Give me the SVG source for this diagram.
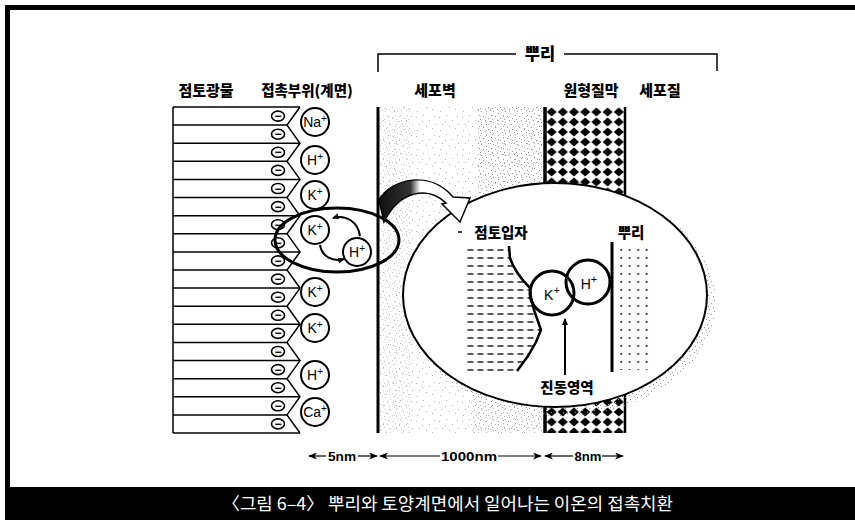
<svg xmlns="http://www.w3.org/2000/svg" width="855" height="520" viewBox="0 0 855 520">
  <style>
    .lbl{font-family:'Noto Sans CJK KR','Noto Sans',sans-serif;font-weight:900;fill:#000;text-anchor:middle}
    .ion{fill:#fff;stroke:#000;stroke-width:2}
    .iont{font-family:'Liberation Sans',Arial,sans-serif;font-size:14px;fill:#000;text-anchor:middle}
    .neg{fill:#fff;stroke:#000;stroke-width:1.6}
    .negt{font-family:'Liberation Sans',Arial,sans-serif;font-size:12px;font-weight:700;text-anchor:middle}
    .plate{stroke:#000;stroke-width:1.5;fill:none}
    .scl{font-family:'Liberation Sans',Arial,sans-serif;font-weight:700;font-size:13px;text-anchor:middle}
    .dim{stroke:#000;stroke-width:1.2;fill:none;marker-end:url(#head)}
    .wall{stroke:#000;fill:none}
  </style>
  <defs>
    <marker id="head" markerWidth="9" markerHeight="7" refX="8" refY="3.5" orient="auto" markerUnits="userSpaceOnUse">
      <path d="M0,0 L9,3.5 L0,7 L2.5,3.5 Z" fill="#000"/>
    </marker>
    <marker id="small" markerWidth="7" markerHeight="6" refX="6" refY="3" orient="auto" markerUnits="userSpaceOnUse">
      <path d="M0,0 L7,3 L0,6 Z" fill="#000"/>
    </marker>
    <pattern id="st1" width="23" height="19" patternUnits="userSpaceOnUse">
      <g fill="#b0b0b0">
        <rect x="2" y="3" width="1" height="1"/><rect x="9" y="1" width="1" height="1"/>
        <rect x="15" y="6" width="1" height="1"/><rect x="20" y="2" width="1" height="1"/>
        <rect x="5" y="10" width="1" height="1"/><rect x="12" y="12" width="1" height="1"/>
        <rect x="18" y="14" width="1" height="1"/><rect x="3" y="16" width="1" height="1"/>
        <rect x="8" y="7" width="1" height="1"/><rect x="21" y="10" width="1" height="1"/>
      </g>
    </pattern>
    <pattern id="st2" width="12" height="11" patternUnits="userSpaceOnUse">
      <g fill="#999">
        <rect x="1" y="1" width="1" height="1"/><rect x="6" y="3" width="1" height="1"/>
        <rect x="10" y="0" width="1" height="1"/><rect x="3" y="6" width="1" height="1"/>
        <rect x="8" y="8" width="1" height="1"/><rect x="11" y="5" width="1" height="1"/>
        <rect x="0" y="9" width="1" height="1"/><rect x="5" y="10" width="1" height="1"/>
      </g>
    </pattern>
    <pattern id="diam" x="546" y="107" width="11.2" height="10" patternUnits="userSpaceOnUse">
      <polygon points="5.6,0.6 10.6,5 5.6,9.4 0.6,5" fill="#000"/>
    </pattern>
    <pattern id="dash" x="466" y="246" width="10" height="8" patternUnits="userSpaceOnUse">
      <line x1="1.5" y1="4" x2="7.5" y2="4" stroke="#000" stroke-width="1.3"/>
    </pattern>
    <pattern id="dots" x="617" y="246" width="8.5" height="8" patternUnits="userSpaceOnUse">
      <circle cx="4.2" cy="4" r="0.9" fill="#000"/>
    </pattern>
    <linearGradient id="shade" gradientUnits="userSpaceOnUse" x1="380" y1="0" x2="460" y2="0">
      <stop offset="0" stop-color="#111"/>
      <stop offset="0.38" stop-color="#333"/>
      <stop offset="0.5" stop-color="#fff"/>
      <stop offset="1" stop-color="#fff"/>
    </linearGradient>
    <clipPath id="clayClip">
      <path d="M466,246 L509,246 L510,258 C514,270 522,280 530,288 L531,298 L534,310 L541,330 L536,342 L528,356 L517,371 L466,371 Z"/>
    </clipPath>
  </defs>

  <!-- frame and caption bar -->
  <g id="frame">
    <path d="M5,5 H855 V10 H10 V487 H5 Z" fill="#000"/>
    <rect x="5" y="487" width="850" height="33" fill="#000"/>
    <text x="222" y="510" textLength="451" lengthAdjust="spacingAndGlyphs" font-family="'Noto Sans CJK KR','Noto Sans',sans-serif" font-size="17.5" fill="#fff">〈그림 6–4〉 뿌리와 토양계면에서 일어나는 이온의 접촉치환</text>
  </g>

  <!-- root bracket -->
  <g id="root-bracket">
    <path d="M378,72 V54 H516 M564,54 H717 V71" class="wall" stroke-width="1.5"/>
    <text x="540" y="60" class="lbl" font-size="16.5">뿌리</text>
  </g>

  <!-- column headings -->
  <g id="headings">
    <text x="206" y="96" class="lbl" font-size="15">점토광물</text>
    <text x="307" y="96" class="lbl" font-size="14.5">접촉부위(계면)</text>
    <text x="435" y="96" class="lbl" font-size="15">세포벽</text>
    <text x="591" y="96" class="lbl" font-size="15">원형질막</text>
    <text x="660" y="96" class="lbl" font-size="15">세포질</text>
  </g>

  <!-- cell wall (stippled) -->
  <g id="cell-wall">
    <rect x="380" y="107" width="163" height="326" fill="url(#st1)"/>
    <rect x="478" y="107" width="65" height="200" fill="url(#st2)"/>
    <rect x="380" y="107" width="30" height="326" fill="url(#st2)" opacity="0.5"/>
    <rect x="470" y="395" width="73" height="38" fill="url(#st2)" opacity="0.8"/>
  </g>

  <!-- plasma membrane -->
  <g id="plasma-membrane">
    <rect x="547" y="107" width="77" height="326" fill="url(#diam)"/>
    <line x1="545" y1="107" x2="545" y2="433" class="wall" stroke-width="3.5"/>
    <line x1="625" y1="107" x2="625" y2="433" class="wall" stroke-width="2.5"/>
  </g>

  <line id="wall-line" x1="378" y1="107" x2="378" y2="433" class="wall" stroke-width="3"/>

  <!-- clay mineral plates -->
  <g id="clay-mineral" class="plate">
    <line x1="173" y1="107" x2="173" y2="433"/>
    <line x1="173" y1="107" x2="300" y2="107"/>
    <line x1="173" y1="125.1" x2="287" y2="125.1"/>
    <line x1="173" y1="143.2" x2="300" y2="143.2"/>
    <line x1="173" y1="161.3" x2="287" y2="161.3"/>
    <line x1="173" y1="179.4" x2="300" y2="179.4"/>
    <line x1="173" y1="197.6" x2="287" y2="197.6"/>
    <line x1="173" y1="215.7" x2="300" y2="215.7"/>
    <line x1="173" y1="233.8" x2="287" y2="233.8"/>
    <line x1="173" y1="251.9" x2="300" y2="251.9"/>
    <line x1="173" y1="270" x2="287" y2="270"/>
    <line x1="173" y1="288.1" x2="300" y2="288.1"/>
    <line x1="173" y1="306.2" x2="287" y2="306.2"/>
    <line x1="173" y1="324.3" x2="300" y2="324.3"/>
    <line x1="173" y1="342.4" x2="287" y2="342.4"/>
    <line x1="173" y1="360.6" x2="300" y2="360.6"/>
    <line x1="173" y1="378.7" x2="287" y2="378.7"/>
    <line x1="173" y1="396.8" x2="300" y2="396.8"/>
    <line x1="173" y1="414.9" x2="287" y2="414.9"/>
    <line x1="173" y1="433" x2="300" y2="433"/>
    <polyline points="300,107 287,125.1 300,143.2 287,161.3 300,179.4 287,197.6 300,215.7 287,233.8 300,251.9 287,270 300,288.1 287,306.2 300,324.3 287,342.4 300,360.6 287,378.7 300,396.8 287,414.9 300,433"/>
  </g>

  <!-- negative surface charges -->
  <g id="charges">
    <g class="neg">
      <ellipse cx="278" cy="116.1" rx="6.5" ry="5"/><ellipse cx="278" cy="134.2" rx="6.5" ry="5"/>
      <ellipse cx="278" cy="152.3" rx="6.5" ry="5"/><ellipse cx="278" cy="170.4" rx="6.5" ry="5"/>
      <ellipse cx="278" cy="188.5" rx="6.5" ry="5"/><ellipse cx="278" cy="206.6" rx="6.5" ry="5"/>
      <ellipse cx="278" cy="224.7" rx="6.5" ry="5"/><ellipse cx="278" cy="242.8" rx="6.5" ry="5"/>
      <ellipse cx="278" cy="260.9" rx="6.5" ry="5"/><ellipse cx="278" cy="279.1" rx="6.5" ry="5"/>
      <ellipse cx="278" cy="297.2" rx="6.5" ry="5"/><ellipse cx="278" cy="315.3" rx="6.5" ry="5"/>
      <ellipse cx="278" cy="333.4" rx="6.5" ry="5"/><ellipse cx="278" cy="351.5" rx="6.5" ry="5"/>
      <ellipse cx="278" cy="369.6" rx="6.5" ry="5"/><ellipse cx="278" cy="387.7" rx="6.5" ry="5"/>
      <ellipse cx="278" cy="405.8" rx="6.5" ry="5"/><ellipse cx="278" cy="423.9" rx="6.5" ry="5"/>
    </g>
    <g class="negt">
      <text x="278" y="120.1">−</text><text x="278" y="138.2">−</text>
      <text x="278" y="156.3">−</text><text x="278" y="174.4">−</text>
      <text x="278" y="192.5">−</text><text x="278" y="210.6">−</text>
      <text x="278" y="228.7">−</text><text x="278" y="246.8">−</text>
      <text x="278" y="264.9">−</text><text x="278" y="283.1">−</text>
      <text x="278" y="301.2">−</text><text x="278" y="319.3">−</text>
      <text x="278" y="337.4">−</text><text x="278" y="355.5">−</text>
      <text x="278" y="373.6">−</text><text x="278" y="391.7">−</text>
      <text x="278" y="409.8">−</text><text x="278" y="427.9">−</text>
    </g>
  </g>

  <!-- adsorbed cations -->
  <g id="ion-na"><circle cx="315" cy="122" r="14" class="ion"/><text x="315" y="127" class="iont">Na<tspan dy="-5" font-size="10">+</tspan></text></g>
  <g id="ion-h1"><circle cx="315" cy="160" r="14" class="ion"/><text x="315" y="165" class="iont">H<tspan dy="-5" font-size="10">+</tspan></text></g>
  <g id="ion-k1"><circle cx="315" cy="195" r="14" class="ion"/><text x="315" y="200" class="iont">K<tspan dy="-5" font-size="10">+</tspan></text></g>
  <g id="ion-k2"><circle cx="315" cy="230" r="14" class="ion"/><text x="315" y="235" class="iont">K<tspan dy="-5" font-size="10">+</tspan></text></g>
  <g id="ion-h2"><circle cx="357" cy="252" r="14" class="ion"/><text x="357" y="257" class="iont">H<tspan dy="-5" font-size="10">+</tspan></text></g>
  <g id="ion-k3"><circle cx="315" cy="292" r="14" class="ion"/><text x="315" y="297" class="iont">K<tspan dy="-5" font-size="10">+</tspan></text></g>
  <g id="ion-k4"><circle cx="315" cy="328" r="14" class="ion"/><text x="315" y="333" class="iont">K<tspan dy="-5" font-size="10">+</tspan></text></g>
  <g id="ion-h3"><circle cx="315" cy="375" r="14" class="ion"/><text x="315" y="380" class="iont">H<tspan dy="-5" font-size="10">+</tspan></text></g>
  <g id="ion-ca"><circle cx="315" cy="412" r="14" class="ion"/><text x="315" y="417" class="iont">Ca<tspan dy="-5" font-size="10">+</tspan></text></g>

  <!-- exchange zone -->
  <g id="exchange-zone">
    <ellipse cx="337" cy="240" rx="62" ry="32" fill="none" stroke="#000" stroke-width="3"/>
  </g>

  <!-- detail view -->
  <g id="detail">
    <ellipse cx="561" cy="301" rx="155" ry="115" fill="url(#st2)"/>
    <ellipse cx="555" cy="295" rx="152" ry="112" fill="#fff" stroke="#000" stroke-width="2"/>
    <rect x="466" y="246" width="80" height="126" fill="url(#dash)" clip-path="url(#clayClip)"/>
    <path d="M509,246 L510,258 C514,270 522,280 530,288 L531,298 L534,310 L541,330 L536,342 L528,356 L517,371" fill="none" stroke="#000" stroke-width="2.5"/>
    <line x1="458" y1="232" x2="462" y2="232" stroke="#000" stroke-width="1.5"/>
    <text x="501" y="238" class="lbl" font-size="14.5">점토입자</text>
    <text x="631" y="238" class="lbl" font-size="14.5">뿌리</text>
    <rect x="617" y="246" width="36" height="124" fill="url(#dots)"/>
    <line x1="612" y1="242" x2="612" y2="372" stroke="#000" stroke-width="3"/>
    <g id="detail-k"><circle cx="552" cy="293" r="22" fill="none" stroke="#000" stroke-width="3"/><text x="552" y="300" class="iont" font-size="17">K<tspan dy="-6" font-size="11">+</tspan></text></g>
    <g id="detail-h"><circle cx="588" cy="282" r="22" fill="none" stroke="#000" stroke-width="3"/><text x="589" y="289" class="iont" font-size="17">H<tspan dy="-6" font-size="11">+</tspan></text></g>
    <text x="567" y="393" class="lbl" font-size="14.5">진동영역</text>
  </g>

  <!-- connectors -->
  <g id="connectors">
    <path d="M360,236 C358,222 346,214 333,218" fill="none" stroke="#000" stroke-width="2" marker-end="url(#small)"/>
    <path d="M320,245 C322,257 333,262 344,259" fill="none" stroke="#000" stroke-width="2" marker-end="url(#small)"/>
    <path d="M379,200 C392,178 430,170 453,197 L470,198 L460,222 L442,204 L446,203 C428,186 400,190 384,222 Z" fill="url(#shade)" stroke="#000" stroke-width="1.5"/>
    <line x1="565" y1="375" x2="565" y2="319" stroke="#000" stroke-width="2" marker-end="url(#small)"/>
  </g>

  <!-- distance scale -->
  <g id="scale">
    <line x1="326" y1="456" x2="309" y2="456" class="dim"/>
    <text x="342" y="461" class="scl" textLength="28" lengthAdjust="spacingAndGlyphs">5nm</text>
    <line x1="358" y1="456" x2="377" y2="456" class="dim"/>
    <line x1="440" y1="456" x2="380" y2="456" class="dim"/>
    <text x="469" y="461" class="scl" textLength="56" lengthAdjust="spacingAndGlyphs">1000nm</text>
    <line x1="498" y1="456" x2="541" y2="456" class="dim"/>
    <line x1="573" y1="456" x2="545" y2="456" class="dim"/>
    <text x="588" y="461" class="scl" textLength="27" lengthAdjust="spacingAndGlyphs">8nm</text>
    <line x1="602" y1="456" x2="623" y2="456" class="dim"/>
  </g>
</svg>
